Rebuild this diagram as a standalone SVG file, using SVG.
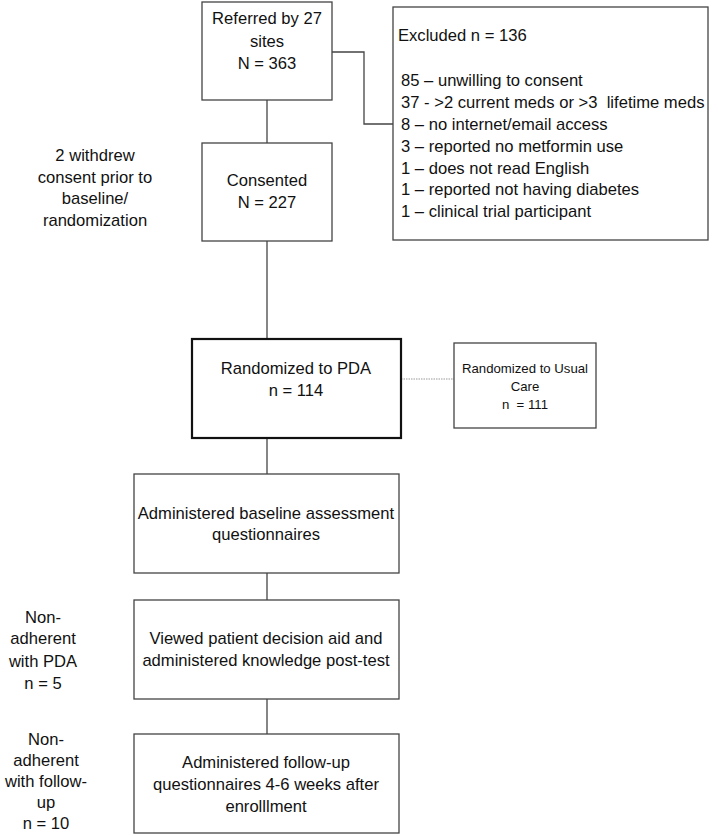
<svg xmlns="http://www.w3.org/2000/svg" width="718" height="836" viewBox="0 0 718 836">
<style>
.box{fill:#fff;stroke:#444;stroke-width:1.3}
.thick{fill:#fff;stroke:#111;stroke-width:2.2}
.t{font-family:"Liberation Sans",Arial,sans-serif;font-size:16.6px;fill:#111}
.m{text-anchor:middle}
.s{font-size:13.2px}
.c{fill:none;stroke:#444;stroke-width:1.3}
.d{fill:none;stroke:#999;stroke-width:1;stroke-dasharray:1.5 1}
</style>
<rect width="718" height="836" fill="#fff"/>
<g id="connectors">
<line class="c" x1="267" y1="100" x2="267" y2="143"/>
<polyline class="c" points="331,52 364,52 364,124 393,124"/>
<line class="c" x1="267" y1="241" x2="267" y2="339"/>
<line class="d" x1="401" y1="379" x2="454" y2="379"/>
<line class="c" x1="267" y1="438" x2="267" y2="474"/>
<line class="c" x1="267" y1="573" x2="267" y2="600"/>
<line class="c" x1="267" y1="699" x2="267" y2="734"/>
</g>
<g id="referred">
<rect class="box" x="202" y="2" width="130" height="98"/>
<text class="t m" x="267" y="24">Referred by 27</text>
<text class="t m" x="267" y="47">sites</text>
<text class="t m" x="267" y="69">N = 363</text>
</g>
<g id="excluded">
<rect class="box" x="393" y="7" width="315" height="233"/>
<text class="t" x="398" y="41">Excluded n = 136</text>
<text class="t" x="401" y="86">85 – unwilling to consent</text>
<text class="t" x="401" y="108">37 - &gt;2 current meds or &gt;3&#160; lifetime meds</text>
<text class="t" x="401" y="130">8 – no internet/email access</text>
<text class="t" x="401" y="152">3 – reported no metformin use</text>
<text class="t" x="401" y="174">1 – does not read English</text>
<text class="t" x="401" y="195">1 – reported not having diabetes</text>
<text class="t" x="401" y="217">1 – clinical trial participant</text>
</g>
<g id="withdrew">
<text class="t m" x="95" y="161">2 withdrew</text>
<text class="t m" x="95" y="183">consent prior to</text>
<text class="t m" x="95" y="204">baseline/</text>
<text class="t m" x="95" y="226">randomization</text>
</g>
<g id="consented">
<rect class="box" x="202" y="143" width="130" height="98"/>
<text class="t m" x="267" y="186">Consented</text>
<text class="t m" x="267" y="208">N = 227</text>
</g>
<g id="randomized-pda">
<rect class="thick" x="192" y="339" width="209" height="99"/>
<text class="t m" x="296" y="374">Randomized to PDA</text>
<text class="t m" x="296" y="396">n = 114</text>
</g>
<g id="usual-care">
<rect class="box" x="454" y="343" width="142" height="85"/>
<text class="t m s" x="525" y="373">Randomized to Usual</text>
<text class="t m s" x="525" y="391">Care</text>
<text class="t m s" x="525" y="409">n&#160; = 111</text>
</g>
<g id="baseline">
<rect class="box" x="134" y="474" width="265" height="99"/>
<text class="t m" x="266" y="519">Administered baseline assessment</text>
<text class="t m" x="266" y="540">questionnaires</text>
</g>
<g id="viewed">
<rect class="box" x="134" y="600" width="265" height="99"/>
<text class="t m" x="266" y="644">Viewed patient decision aid and</text>
<text class="t m" x="266" y="666">administered knowledge post-test</text>
</g>
<g id="nonadherent-pda">
<text class="t m" x="43" y="623">Non-</text>
<text class="t m" x="43" y="644">adherent</text>
<text class="t m" x="43" y="667">with PDA</text>
<text class="t m" x="43" y="689">n = 5</text>
</g>
<g id="followup">
<rect class="box" x="134" y="734" width="265" height="99"/>
<text class="t m" x="266" y="768">Administered follow-up</text>
<text class="t m" x="266" y="790">questionnaires 4-6 weeks after</text>
<text class="t m" x="266" y="812">enrolllment</text>
</g>
<g id="nonadherent-followup">
<text class="t m" x="46" y="745">Non-</text>
<text class="t m" x="46" y="766">adherent</text>
<text class="t m" x="46" y="787">with follow-</text>
<text class="t m" x="46" y="808">up</text>
<text class="t m" x="46" y="829">n = 10</text>
</g>
</svg>
